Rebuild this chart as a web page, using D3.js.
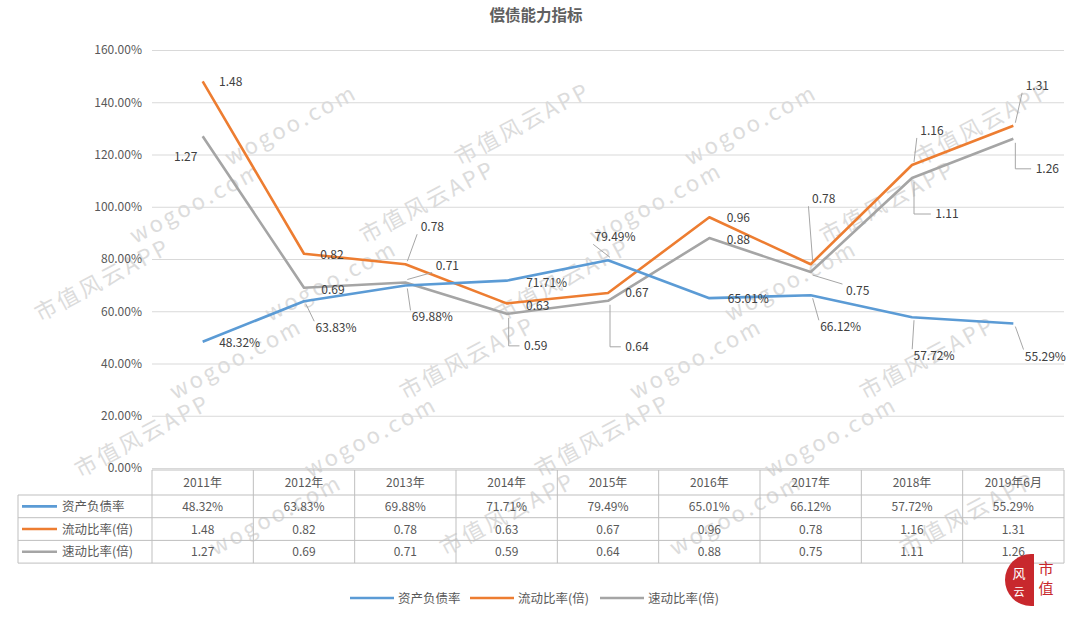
<!DOCTYPE html>
<html><head><meta charset="utf-8">
<script src="https://cdn.jsdelivr.net/npm/d3@7"></script>
<style>body{margin:0;background:#fff}svg{display:block}</style>
</head><body><svg id="c" width="1080" height="622"></svg>
<script>
const title = "偿债能力指标";
const categories = ["2011年","2012年","2013年","2014年","2015年","2016年","2017年","2018年","2019年6月"];
const seriesNames = ["资产负债率","流动比率(倍)","速动比率(倍)"];
const debtRatio = [48.32,63.83,69.88,71.71,79.49,65.01,66.12,57.72,55.29];
const currentRatio = [1.48,0.82,0.78,0.63,0.67,0.96,0.78,1.16,1.31];
const quickRatio = [1.27,0.69,0.71,0.59,0.64,0.88,0.75,1.11,1.26];
const yTicks = [0,20,40,60,80,100,120,140,160];
const colors = ["#5B9BD5","#ED7D31","#A5A5A5"];

// label layout: [dx, dy (baseline), leader type] relative to each point
const labelLayout = [
  [[37,5,"n"],[32,31,"l"],[27,36,"l"],[40,6,"n"],[7,-19,"l"],[39,5,"n"],[30,36,"l"],[22,43,"l"],[32,37,"l"]],
  [[28,5,"n"],[28,5,"n"],[27,-33,"l"],[31,7,"n"],[29,4,"n"],[29,5,"n"],[13,-61,"l"],[20,-30,"l"],[24,-36,"l"]],
  [[-17,25,"n"],[29,6,"n"],[42,-13,"l"],[29,36,"b"],[29,50,"b"],[29,6,"n"],[47,23,"l"],[35,40,"b"],[34,34,"b"]]
];
const fmt = [v=>v.toFixed(2)+"%", v=>v.toFixed(2), v=>v.toFixed(2)];

const svg = d3.select("#c");
const font = "'Noto Sans CJK SC','Noto Sans',sans-serif";
const txt = "#595959";

const pLeft = 152, pRight = 1064, pTop = 50, pBottom = 468;
const x = d3.scaleBand().domain(categories).range([pLeft,pRight]);
const y = d3.scaleLinear().domain([0,160]).range([pBottom,pTop]);

// watermark (only fully visible copies)
const wm = svg.append("g").attr("fill","#dcdcdc").attr("font-family",font).attr("font-size",22);
const ang = -28*Math.PI/180;
for (let r=-3;r<9;r++){
  for (let c=-1;c<8;c++){
    const cx = c*230 + (r%2?115:0) - 40 + r*20;
    const cy = r*78 + 10;
    const t = wm.append("text").attr("transform",`translate(${cx},${cy}) rotate(-28)`)
      .attr("letter-spacing",3).text(((r+c)%2+2)%2? "wogoo.com":"市值风云APP");
    const b = t.node().getBBox();
    const corners = [[b.x,b.y],[b.x+b.width,b.y],[b.x,b.y+b.height],[b.x+b.width,b.y+b.height]]
      .map(([u,v])=>[cx+u*Math.cos(ang)-v*Math.sin(ang), cy+u*Math.sin(ang)+v*Math.cos(ang)]);
    if (corners.some(([a,bb])=>a<2||a>1078||bb<2||bb>620)) t.remove();
  }
}

// title
svg.append("text").attr("x",536).attr("y",21).attr("text-anchor","middle")
  .attr("font-family",font).attr("font-size",15.5).attr("font-weight","bold").attr("fill","#606060").text(title);

// gridlines + y axis
const yAxis = d3.axisLeft(y).tickValues(yTicks).tickFormat(d=>d.toFixed(2)+"%").tickSize(-(pRight-pLeft)).tickPadding(10);
const ga = svg.append("g").attr("transform",`translate(${pLeft},0)`).call(yAxis);
ga.select(".domain").remove();
ga.selectAll(".tick line").attr("stroke","#d9d9d9").attr("stroke-width",1);
ga.selectAll(".tick text").attr("font-family",font).attr("font-size",12).attr("fill",txt);

// lines
const data = [debtRatio, currentRatio.map(v=>v*100), quickRatio.map(v=>v*100)];
const raw = [debtRatio,currentRatio,quickRatio];
const line = d3.line().x((d,i)=>x(categories[i])+x.bandwidth()/2).y(d=>y(d));
[2,1,0].forEach(s=>{
  svg.append("path").datum(data[s]).attr("d",line).attr("fill","none")
    .attr("stroke",colors[s]).attr("stroke-width",2.6).attr("stroke-linejoin","round");
});

// data labels
const lg = svg.append("g");
raw.forEach((arr,s)=>{
  arr.forEach((v,i)=>{
    const px = x(categories[i])+x.bandwidth()/2, py = y(data[s][i]);
    const [dx,dy,t] = labelLayout[s][i];
    const lx = px+dx, ly = py+dy;
    const label = fmt[s](v);
    const w = label.length*6.6;
    if (t==="l"){
      const below = dy>0;
      const ex = lx - w/2 - 2, ey = below ? ly-11 : ly+3;
      lg.append("line").attr("x1",px+2).attr("y1",py+(below?3:-3))
        .attr("x2",ex).attr("y2",ey).attr("stroke","#a6a6a6").attr("stroke-width",1);
    } else if (t==="b"){
      lg.append("polyline").attr("points",`${px+2},${py+4} ${px+2},${ly-4} ${lx-w/2-3},${ly-4}`)
        .attr("fill","none").attr("stroke","#a6a6a6").attr("stroke-width",1);
    }
    lg.append("text").attr("x",lx).attr("y",ly).attr("text-anchor","middle")
      .attr("font-family",font).attr("font-size",12).attr("fill","#404040").text(label);
  });
});

// data table
const tTop = 470, hH = 25, rH = 22.7, tLeft = 18;
const tg = svg.append("g").attr("font-family",font).attr("font-size",12).attr("fill",txt);
const stroke = "#bfbfbf";
const tBottom = tTop+hH+3*rH;
[tTop+hH, tTop+hH+rH, tTop+hH+2*rH, tBottom].forEach(yy=>{
  tg.append("line").attr("x1",tLeft).attr("x2",pRight).attr("y1",yy).attr("y2",yy).attr("stroke",stroke);
});
tg.append("line").attr("x1",pLeft).attr("x2",pRight).attr("y1",tTop).attr("y2",tTop).attr("stroke",stroke);
tg.append("line").attr("x1",tLeft).attr("x2",tLeft).attr("y1",tTop+hH).attr("y2",tBottom).attr("stroke",stroke);
categories.forEach(c=>{
  tg.append("line").attr("x1",x(c)).attr("x2",x(c)).attr("y1",tTop).attr("y2",tBottom).attr("stroke",stroke);
});
tg.append("line").attr("x1",pRight).attr("x2",pRight).attr("y1",tTop).attr("y2",tBottom).attr("stroke",stroke);
categories.forEach(c=>{
  tg.append("text").attr("x",x(c)+x.bandwidth()/2).attr("y",tTop+hH/2+4).attr("text-anchor","middle").text(c);
});
raw.forEach((arr,s)=>{
  const yy = tTop+hH+s*rH+rH/2;
  tg.append("line").attr("x1",22).attr("x2",57).attr("y1",yy).attr("y2",yy).attr("stroke",colors[s]).attr("stroke-width",2.6);
  tg.append("text").attr("x",62).attr("y",yy+4.5).attr("font-size",12.5).text(seriesNames[s]);
  arr.forEach((v,i)=>{
    tg.append("text").attr("x",x(categories[i])+x.bandwidth()/2).attr("y",yy+4.5).attr("text-anchor","middle").text(fmt[s](v));
  });
});

// legend
const legX = [350,470,600];
const leg = svg.append("g").attr("font-family",font).attr("font-size",12.5).attr("fill",txt);
seriesNames.forEach((n,s)=>{
  leg.append("line").attr("x1",legX[s]).attr("x2",legX[s]+44).attr("y1",598).attr("y2",598).attr("stroke",colors[s]).attr("stroke-width",2.6);
  leg.append("text").attr("x",legX[s]+48).attr("y",602.5).text(n);
});

// logo
const logo = svg.append("g").attr("transform","translate(1031,580)");
logo.append("path").attr("d","M0,-26 A26,26 0 0,0 0,26 L0,-26 Z").attr("fill","#c8282d");
logo.append("rect").attr("x",0).attr("y",-26).attr("width",3).attr("height",52).attr("fill","#c8282d");
logo.append("text").attr("x",-12).attr("y",-2).attr("text-anchor","middle").attr("font-family",font).attr("font-size",13).attr("fill","#fff").text("风");
logo.append("text").attr("x",-12).attr("y",16).attr("text-anchor","middle").attr("font-family",font).attr("font-size",11).attr("fill","#fff").text("云");
logo.append("text").attr("x",15).attr("y",-6).attr("text-anchor","middle").attr("font-family",font).attr("font-size",15).attr("fill","#c8282d").text("市");
logo.append("text").attr("x",15).attr("y",14).attr("text-anchor","middle").attr("font-family",font).attr("font-size",15).attr("fill","#c8282d").text("值");
</script></body></html>
